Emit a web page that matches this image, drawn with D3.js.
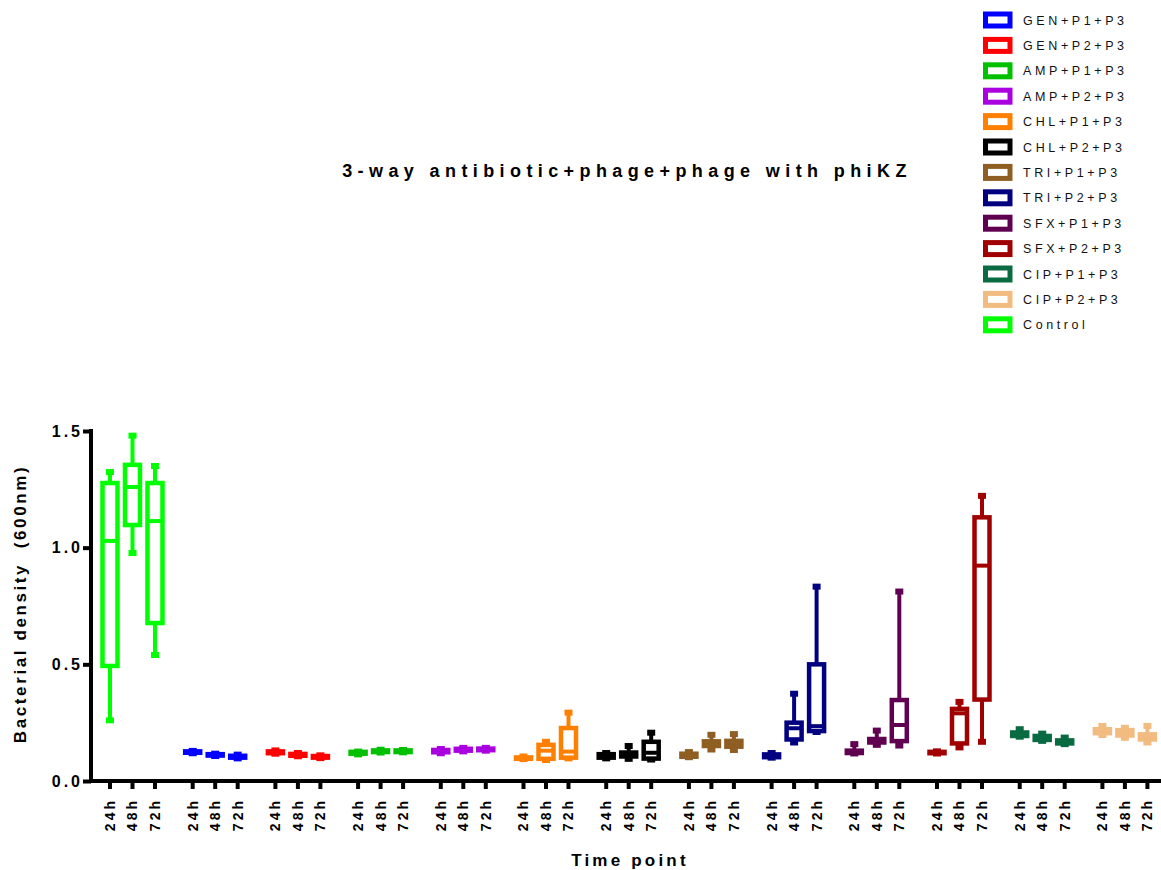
<!DOCTYPE html>
<html>
<head>
<meta charset="utf-8">
<script src="https://cdn.jsdelivr.net/npm/d3@7"></script>
<style>
  html, body { margin: 0; padding: 0; background: #fff; }
  svg { display: block; font-family: "Liberation Sans", Arial, Helvetica, sans-serif; }
</style>
</head>
<body>
<svg id="chart" width="1161" height="870"></svg>
<script>
// ---------------- data ----------------
const groups = ["Control", "GEN+P1+P3", "GEN+P2+P3", "AMP+P1+P3", "AMP+P2+P3",
  "CHL+P1+P3", "CHL+P2+P3", "TRI+P1+P3", "TRI+P2+P3", "SFX+P1+P3", "SFX+P2+P3",
  "CIP+P1+P3", "CIP+P2+P3"];
const timepoints = ["24h", "48h", "72h"];
const legendOrder = ["GEN+P1+P3", "GEN+P2+P3", "AMP+P1+P3", "AMP+P2+P3", "CHL+P1+P3",
  "CHL+P2+P3", "TRI+P1+P3", "TRI+P2+P3", "SFX+P1+P3", "SFX+P2+P3", "CIP+P1+P3",
  "CIP+P2+P3", "Control"];
const groupColors = ["#00FF00", "#0000FF", "#FF0000", "#00C000", "#AA00E0",
  "#FF8000", "#000000", "#8F5E22", "#000080", "#600050", "#A00000",
  "#0A6A42", "#F2BB80"];
const yTicks = [0, 0.5, 1.0, 1.5];

// per group: [24h, 48h, 72h]
const whiskerLow = [
  [0.26, 0.977, 0.54], [0.119, 0.107, 0.097], [0.117, 0.106, 0.098],
  [0.114, 0.122, 0.123], [0.119, 0.127, 0.130], [0.094, 0.090, 0.097],
  [0.097, 0.095, 0.092], [0.102, 0.135, 0.133], [0.100, 0.165, 0.210],
  [0.118, 0.155, 0.152], [0.118, 0.144, 0.168], [0.190, 0.172, 0.158],
  [0.197, 0.185, 0.165]];
const boxLow = [
  [0.493, 1.097, 0.677], [0.121, 0.109, 0.100], [0.119, 0.108, 0.100],
  [0.117, 0.124, 0.124], [0.123, 0.130, 0.132], [0.095, 0.095, 0.100],
  [0.100, 0.105, 0.096], [0.104, 0.150, 0.147], [0.102, 0.178, 0.214],
  [0.120, 0.165, 0.171], [0.119, 0.161, 0.349], [0.193, 0.176, 0.161],
  [0.205, 0.195, 0.178]];
const medianVal = [
  [1.029, 1.26, 1.114], [0.124, 0.112, 0.104], [0.123, 0.112, 0.104],
  [0.121, 0.128, 0.128], [0.128, 0.134, 0.136], [0.098, 0.130, 0.126],
  [0.108, 0.112, 0.121], [0.110, 0.165, 0.160], [0.108, 0.226, 0.235],
  [0.125, 0.172, 0.240], [0.122, 0.290, 0.923], [0.200, 0.185, 0.167],
  [0.212, 0.205, 0.190]];
const boxHigh = [
  [1.277, 1.355, 1.277], [0.127, 0.115, 0.108], [0.127, 0.116, 0.107],
  [0.125, 0.131, 0.131], [0.133, 0.138, 0.139], [0.101, 0.155, 0.227],
  [0.115, 0.122, 0.168], [0.117, 0.170, 0.172], [0.114, 0.250, 0.500],
  [0.130, 0.180, 0.347], [0.125, 0.309, 1.130], [0.208, 0.193, 0.174],
  [0.222, 0.218, 0.200]];
const whiskerHigh = [
  [1.324, 1.48, 1.35], [0.129, 0.117, 0.113], [0.131, 0.120, 0.110],
  [0.126, 0.134, 0.133], [0.137, 0.142, 0.142], [0.105, 0.168, 0.293],
  [0.120, 0.150, 0.207], [0.124, 0.198, 0.201], [0.120, 0.374, 0.833],
  [0.158, 0.216, 0.812], [0.127, 0.339, 1.222], [0.222, 0.203, 0.186],
  [0.236, 0.228, 0.236]];

// ---------------- layout ----------------
const svg = d3.select("#chart");
const FONT = '"Liberation Sans", Arial, Helvetica, sans-serif';

const y = d3.scaleLinear().domain([0, 1.5]).range([781, 431]);
const gx = d3.scaleBand().domain(groups).range([98.75, 1158.65]).paddingInner(0.184).paddingOuter(0);
const tx = d3.scaleBand().domain(timepoints).range([0, gx.bandwidth()]).padding(0);
const color = d3.scaleOrdinal().domain(groups).range(groupColors);

const cx = (g, t) => gx(g) + tx(t) + tx.bandwidth() / 2;

// title
svg.append("text")
  .attr("x", 627).attr("y", 177)
  .attr("text-anchor", "middle")
  .style("font-size", "18px").style("font-weight", "bold")
  .style("letter-spacing", "5.4px")
  .text("3-way antibiotic+phage+phage with phiKZ");

// legend
const leg = svg.append("g");
legendOrder.forEach((name, i) => {
  const cy = 20 + i * 25.4;
  leg.append("rect")
    .attr("x", 985.5).attr("y", cy - 6)
    .attr("width", 24.5).attr("height", 12)
    .attr("fill", "#fff")
    .attr("stroke", color(name)).attr("stroke-width", 5);
  leg.append("text")
    .attr("x", 1023).attr("y", cy + 4.5)
    .style("font-size", "12.5px")
    .style("letter-spacing", "3.6px")
    .attr("fill", "#111")
    .text(name);
});

// boxes
const plot = svg.append("g");
const boxW = 15, capW = 8, capH = 6;
groups.forEach((g, gi) => {
  timepoints.forEach((t, ti) => {
    const x = cx(g, t);
    const c = color(g);
    const lo = whiskerLow[gi][ti], q1 = boxLow[gi][ti], md = medianVal[gi][ti],
          q3 = boxHigh[gi][ti], hi = whiskerHigh[gi][ti];
    const gg = plot.append("g");
    gg.append("line").attr("x1", x).attr("x2", x)
      .attr("y1", y(lo)).attr("y2", y(hi))
      .attr("stroke", c).attr("stroke-width", 4);
    gg.append("rect").attr("x", x - capW / 2).attr("y", y(hi) - capH / 2)
      .attr("width", capW).attr("height", capH).attr("fill", c);
    gg.append("rect").attr("x", x - capW / 2).attr("y", y(lo) - capH / 2)
      .attr("width", capW).attr("height", capH).attr("fill", c);
    gg.append("rect").attr("x", x - boxW / 2).attr("y", y(q3))
      .attr("width", boxW).attr("height", Math.max(0.5, y(q1) - y(q3)))
      .attr("fill", "#fff").attr("stroke", c).attr("stroke-width", 4.5);
    gg.append("line").attr("x1", x - boxW / 2).attr("x2", x + boxW / 2)
      .attr("y1", y(md)).attr("y2", y(md))
      .attr("stroke", c).attr("stroke-width", 4);
  });
});

// y axis
const yAxis = svg.append("g").attr("transform", "translate(91,0)")
  .call(d3.axisLeft(y).tickValues(yTicks).tickFormat(d3.format(".1f"))
    .tickSize(8).tickSizeOuter(0).tickPadding(6));
yAxis.select(".domain").attr("stroke", "#000").attr("stroke-width", 4)
  .attr("d", `M0,${y(0) + 2}V${y(1.5) - 2}`);
yAxis.selectAll(".tick line").attr("stroke", "#000").attr("stroke-width", 4);
yAxis.selectAll(".tick text")
  .attr("x", -8)
  .style("font-family", FONT).style("font-size", "16px").style("font-weight", "bold")
  .style("letter-spacing", "3px").attr("fill", "#000");

// x axis
svg.append("line").attr("x1", 89).attr("x2", 1161)
  .attr("y1", y(0)).attr("y2", y(0))
  .attr("stroke", "#000").attr("stroke-width", 4);
const xt = svg.append("g");
groups.forEach(g => {
  timepoints.forEach(t => {
    const x = cx(g, t);
    xt.append("line").attr("x1", x).attr("x2", x)
      .attr("y1", y(0)).attr("y2", y(0) + 8)
      .attr("stroke", "#000").attr("stroke-width", 4);
    xt.append("text")
      .attr("transform", `translate(${x},798) rotate(-90)`)
      .attr("text-anchor", "end").attr("dy", "0.35em")
      .style("font-size", "14px").style("font-weight", "bold")
      .style("letter-spacing", "3px")
      .text(t);
  });
});

// axis titles
svg.append("text")
  .attr("transform", "translate(26,604) rotate(-90)")
  .attr("text-anchor", "middle")
  .style("font-size", "17px").style("font-weight", "bold")
  .style("letter-spacing", "2.6px")
  .style("white-space", "pre")
  .text("Bacterial density  (600nm)");

svg.append("text")
  .attr("x", 630).attr("y", 866)
  .attr("text-anchor", "middle")
  .style("font-size", "17px").style("font-weight", "bold")
  .style("letter-spacing", "3.2px")
  .text("Time point");
</script>
</body>
</html>
